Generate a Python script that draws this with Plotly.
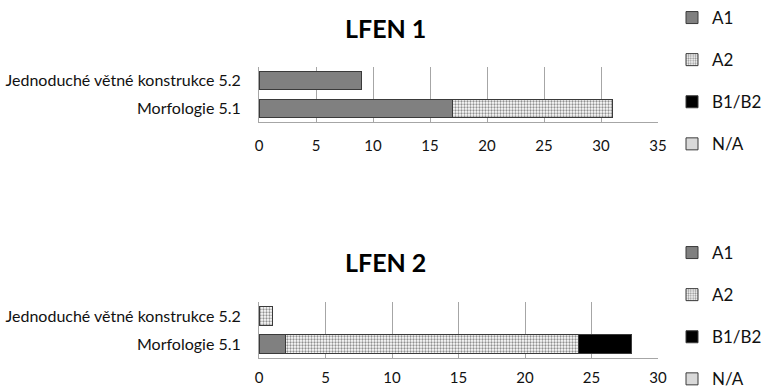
import plotly.graph_objects as go

# Categories (bottom to top)
categories = ["Morfologie 5.1", "Jednoduché větné konstrukce 5.2"]
levels = ["A1", "A2", "B1/B2", "N/A"]

# LFEN 1 values per level, aligned with categories
lfen1 = {
    "A1": [17, 9],
    "A2": [14, None],
    "B1/B2": [None, None],
    "N/A": [None, None],
}
# LFEN 2 values per level
lfen2 = {
    "A1": [2, None],
    "A2": [22, 1],
    "B1/B2": [4, None],
    "N/A": [None, None],
}
titles = ["LFEN 1", "LFEN 2"]
x_ranges = [(0, 35), (0, 30)]

W, H = 767, 388
FONT = "Lato"

styles = {
    "A1": dict(color="#808080", line=dict(color="#3a3a3a", width=1)),
    "A2": dict(color="#ffffff", line=dict(color="#3a3a3a", width=1),
               pattern=dict(shape=".", fgcolor="#222222", bgcolor="#ffffff",
                            size=3, solidity=0.45)),
    "B1/B2": dict(color="#000000", line=dict(color="#3a3a3a", width=1)),
    "N/A": dict(color="#d9d9d9", line=dict(color="#3a3a3a", width=1)),
}

fig = go.Figure()

for i, data in enumerate([lfen1, lfen2]):
    xa = "x" if i == 0 else "x2"
    ya = "y" if i == 0 else "y2"
    lg = "legend" if i == 0 else "legend2"
    for lev in levels:
        fig.add_trace(go.Bar(
            y=categories, x=data[lev], name=lev, orientation="h",
            marker=styles[lev], xaxis=xa, yaxis=ya, legend=lg,
            legendgroup=f"{lg}-{lev}", hoverinfo="x+name",
        ))


def px_x(p):
    return p / W


def px_y(p):
    return 1 - p / H


xaxis_common = dict(
    showgrid=True, gridcolor="#a6a6a6", gridwidth=1,
    showline=True, linecolor="#a6a6a6", linewidth=1,
    zeroline=False, ticks="", automargin=False,
    tickfont=dict(family=FONT, size=15, color="#111"),
    dtick=5, fixedrange=True,
)
yaxis_common = dict(
    showgrid=False, showline=True, linecolor="#a6a6a6", linewidth=1,
    ticks="", automargin=False, ticklabelstandoff=14,
    tickfont=dict(family=FONT, size=16, color="#111"), fixedrange=True,
)
legend_common = dict(
    xref="container", yref="container", xanchor="left", yanchor="top",
    font=dict(family=FONT, size=17, color="#111"),
    tracegroupgap=17, bgcolor="rgba(0,0,0,0)",
)

fig.update_layout(
    width=W, height=H,
    margin=dict(l=0, r=0, t=0, b=0, autoexpand=False),
    paper_bgcolor="white", plot_bgcolor="white",
    barmode="stack", bargap=0.345,
    showlegend=True,
    font=dict(family=FONT, color="#111"),
    xaxis=dict(domain=[px_x(259), px_x(658)], range=list(x_ranges[0]),
               anchor="y", ticklabelstandoff=10, **xaxis_common),
    yaxis=dict(domain=[px_y(122), px_y(67)], anchor="x", **yaxis_common),
    xaxis2=dict(domain=[px_x(259), px_x(658)], range=list(x_ranges[1]),
                anchor="y2", ticklabelstandoff=6, **xaxis_common),
    yaxis2=dict(domain=[px_y(358), px_y(302)], anchor="x2", **yaxis_common),
    legend=dict(x=px_x(672), y=px_y(-1), **legend_common),
    legend2=dict(x=px_x(672), y=px_y(235), **legend_common),
    annotations=[
        dict(text=f"<b>{titles[0]}</b>", x=px_x(385), y=px_y(28),
             xref="paper", yref="paper", xanchor="center", yanchor="middle",
             showarrow=False, font=dict(family=FONT, size=25, color="#000")),
        dict(text=f"<b>{titles[1]}</b>", x=px_x(385), y=px_y(262),
             xref="paper", yref="paper", xanchor="center", yanchor="middle",
             showarrow=False, font=dict(family=FONT, size=25, color="#000")),
    ],
)

fig.write_html("out.html")
